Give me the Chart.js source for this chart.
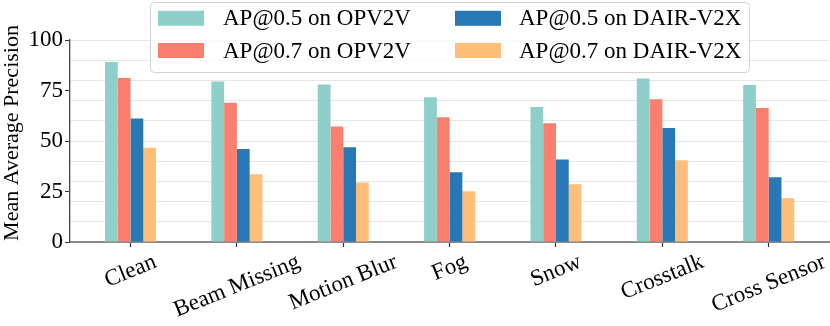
<!DOCTYPE html>
<html>
<head>
<meta charset="utf-8">
<script src="https://cdn.jsdelivr.net/npm/chart.js@4/dist/chart.umd.min.js"></script>
<style>
  html, body { margin: 0; padding: 0; background: #fff; }
  #wrap { width: 830px; height: 326px; }
</style>
</head>
<body>
<div id="wrap"><canvas id="chart" width="830" height="326"></canvas></div>
<script>
const categories = ['Clean', 'Beam Missing', 'Motion Blur', 'Fog', 'Snow', 'Crosstalk', 'Cross Sensor'];
const opv05 = [89.1, 79.5, 78.0, 71.7, 66.8, 81.0, 77.7];
const opv07 = [81.2, 68.9, 57.2, 61.7, 58.8, 70.7, 66.3];
const dair05 = [61.2, 46.0, 46.9, 34.5, 40.8, 56.4, 32.1];
const dair07 = [46.6, 33.6, 29.4, 25.1, 28.6, 40.5, 21.7];
const yLabels = [0, 25, 50, 75, 100];

const FONT = '"Liberation Serif", "DejaVu Serif", serif';

function pts(arr) {
  return arr.map((v, i) => ({ x: i, y: v }));
}

// legend drawn inside the plot, two columns like the paper figure
const legendPlugin = {
  id: 'boxLegend',
  afterDraw(chart) {
    const ctx = chart.ctx;
    const ds = chart.data.datasets;
    const x0 = 150, y0 = 2, w = 599, h = 70, r = 4;
    ctx.save();
    ctx.beginPath();
    ctx.roundRect(x0 + 0.5, y0 + 0.5, w, h, r);
    ctx.fillStyle = 'rgba(255,255,255,0.8)';
    ctx.fill();
    ctx.strokeStyle = '#d4d4d4';
    ctx.lineWidth = 1;
    ctx.stroke();
    const slots = [
      { i: 0, px: 158, tx: 223, cy: 18.3 },
      { i: 1, px: 158, tx: 223, cy: 50.5 },
      { i: 2, px: 455, tx: 519, cy: 18.3 },
      { i: 3, px: 455, tx: 519, cy: 50.5 }
    ];
    ctx.font = '23px ' + FONT;
    ctx.textBaseline = 'middle';
    ctx.textAlign = 'left';
    slots.forEach(s => {
      ctx.fillStyle = ds[s.i].backgroundColor;
      ctx.fillRect(s.px, s.cy - 7.5, 46, 15);
      ctx.fillStyle = '#000';
      ctx.fillText(ds[s.i].label, s.tx, s.cy + 1);
    });
    ctx.restore();
  }
};

// rotated, centred category labels + y title
const labelPlugin = {
  id: 'catLabels',
  afterDraw(chart) {
    const ctx = chart.ctx;
    const xs = chart.scales.x;
    const a = 22 * Math.PI / 180;
    ctx.save();
    ctx.font = '23px ' + FONT;
    ctx.fillStyle = '#000';
    ctx.textAlign = 'center';
    ctx.textBaseline = 'middle';
    categories.forEach((c, i) => {
      const px = xs.getPixelForValue(i);
      const tw = ctx.measureText(c).width;
      const H = tw * Math.sin(a) + 22 * Math.cos(a);
      ctx.save();
      ctx.translate(px, 251 + H / 2);
      ctx.rotate(-a);
      ctx.fillText(c, 0, 0);
      ctx.restore();
    });
    ctx.font = '22px ' + FONT;
    ctx.save();
    ctx.translate(12, 133);
    ctx.rotate(-Math.PI / 2);
    ctx.fillText('Mean Average Precision', 0, 0);
    ctx.restore();
    ctx.restore();
  }
};

new Chart(document.getElementById('chart').getContext('2d'), {
  type: 'bar',
  data: {
    datasets: [
      { label: 'AP@0.5 on OPV2V', data: pts(opv05), backgroundColor: '#8ECFC9' },
      { label: 'AP@0.7 on OPV2V', data: pts(opv07), backgroundColor: '#FA7F6F' },
      { label: 'AP@0.5 on DAIR-V2X', data: pts(dair05), backgroundColor: '#2878B5' },
      { label: 'AP@0.7 on DAIR-V2X', data: pts(dair07), backgroundColor: '#FFBE7A' }
    ]
  },
  options: {
    responsive: false,
    animation: false,
    devicePixelRatio: 1,
    layout: { padding: { top: 40, right: 1, left: 0, bottom: 0 } },
    datasets: { bar: { categoryPercentage: 0.48, barPercentage: 1.0, borderWidth: 0 } },
    plugins: { legend: { display: false }, tooltip: { enabled: false } },
    scales: {
      x: {
        type: 'linear',
        offset: false,
        min: -0.569,
        max: 6.567,
        afterBuildTicks: (s) => { s.ticks = categories.map((c, i) => ({ value: i })); },
        afterFit: (s) => { s.height = 84; },
        ticks: { display: false },
        grid: { offset: false, drawOnChartArea: false, drawTicks: true, tickLength: 5, tickColor: '#333', tickWidth: 1.2 },
        border: { color: '#8a8a8a', width: 2 }
      },
      y: {
        min: 0,
        max: 100,
        afterFit: (s) => { s.width = 70; },
        ticks: {
          stepSize: 5,
          maxTicksLimit: 21,
          autoSkip: false,
          padding: 2,
          color: '#000',
          font: { family: FONT, size: 23 },
          callback: (v) => (yLabels.includes(v) ? String(v) : '')
        },
        grid: {
          tickLength: 5,
          color: (c) => (c.tick && c.tick.value % 10 === 0 ? '#e6e6e6' : 'rgba(0,0,0,0)'),
          tickColor: (c) => (c.tick && yLabels.includes(c.tick.value) ? '#333' : 'rgba(0,0,0,0)'),
          lineWidth: 1
        },
        border: { color: '#444', width: 1.3 }
      }
    }
  },
  plugins: [legendPlugin, labelPlugin]
});
</script>
</body>
</html>
